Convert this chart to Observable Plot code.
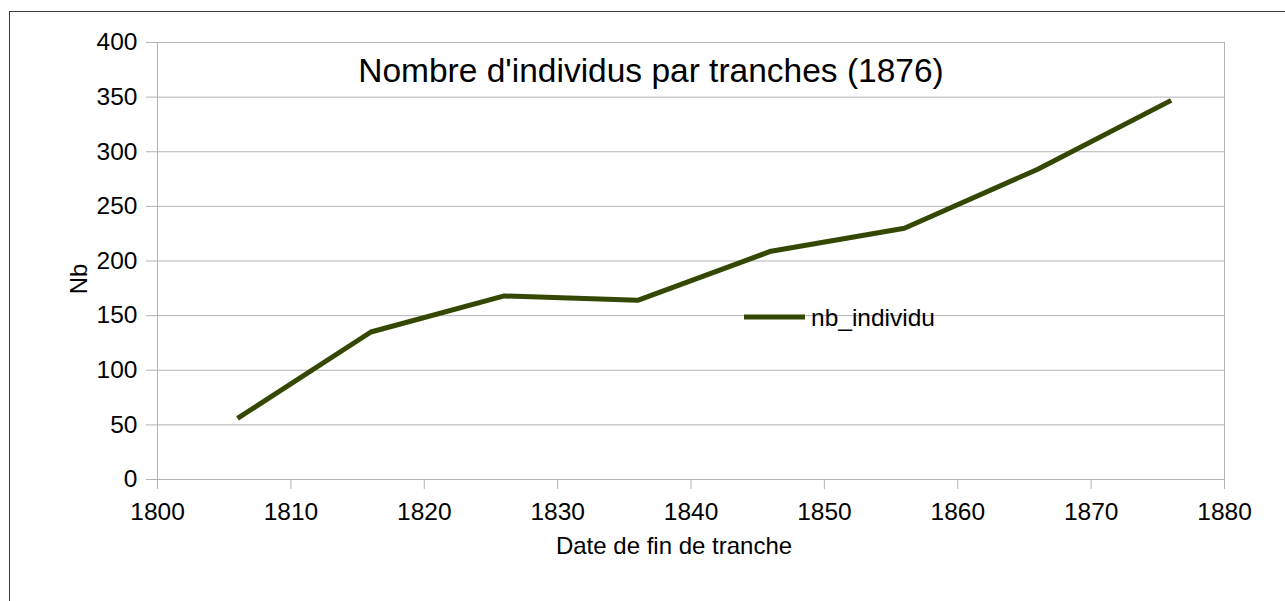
<!DOCTYPE html>
<html>
<head>
<meta charset="utf-8">
<script src="https://cdn.jsdelivr.net/npm/d3@7"></script>
<script src="https://cdn.jsdelivr.net/npm/@observablehq/plot@0.6"></script>
<style>
  html, body { margin: 0; padding: 0; background: #fff; overflow: hidden; }
  #wrap { position: relative; width: 1285px; height: 601px; overflow: hidden; }
  #border { position: absolute; left: 9px; top: 11px; width: 1400px; height: 800px; border-left: 1px solid #3a3a3a; border-top: 1px solid #3a3a3a; pointer-events: none; }
  #chart { position: absolute; left: 0; top: 0; }
</style>
</head>
<body>
<div id="wrap"><div id="chart"></div><div id="border"></div></div>
<script>
const years = [1806, 1816, 1826, 1836, 1846, 1856, 1866, 1876];
const nbIndividu = [56, 135, 168, 164, 209, 230, 284, 347];
const yTicks = [0, 50, 100, 150, 200, 250, 300, 350, 400];
const xTicks = [1800, 1810, 1820, 1830, 1840, 1850, 1860, 1870, 1880];
const titleText = "Nombre d'individus par tranches (1876)";
const seriesName = "nb_individu";
const xLabel = "Date de fin de tranche";
const yLabel = "Nb";

const data = years.map((y, i) => ({year: y, nb: nbIndividu[i]}));
const lineColor = "#354803";
const gridColor = "#b3b3b3";
const font = "'Liberation Sans', Arial, sans-serif";

const plot = Plot.plot({
  width: 1285,
  height: 601,
  marginLeft: 157,
  marginRight: 61,
  marginTop: 42,
  marginBottom: 122,
  style: {fontFamily: font, background: "transparent", color: "black"},
  x: {domain: [1800, 1880], ticks: xTicks},
  y: {domain: [0, 400], ticks: yTicks},
  marks: [
    Plot.gridY(yTicks, {stroke: gridColor, strokeOpacity: 1}),
    Plot.frame({stroke: gridColor}),
    Plot.axisY(yTicks, {tickSize: 11, tickPadding: 9, fontSize: 24.5, stroke: gridColor, strokeOpacity: 1, fill: "black", label: null}),
    Plot.axisX(xTicks, {tickSize: 10, tickPadding: 13, fontSize: 24.5, stroke: gridColor, strokeOpacity: 1, fill: "black", label: null, tickFormat: d => String(d)}),
    Plot.line(data, {x: "year", y: "nb", stroke: lineColor, strokeWidth: 5, strokeLinejoin: "round", strokeLinecap: "butt"})
  ]
});
document.getElementById("chart").appendChild(plot);

const svg = d3.select(plot);
svg.append("text")
  .attr("x", 651).attr("y", 82)
  .attr("text-anchor", "middle")
  .attr("font-size", 33.5).attr("font-family", font).attr("fill", "black")
  .text(titleText);
svg.append("text")
  .attr("x", 674).attr("y", 554)
  .attr("text-anchor", "middle")
  .attr("font-size", 24).attr("font-family", font).attr("fill", "black")
  .text(xLabel);
svg.append("text")
  .attr("transform", "translate(87,279) rotate(-90)")
  .attr("text-anchor", "middle")
  .attr("font-size", 24).attr("font-family", font).attr("fill", "black")
  .text(yLabel);
svg.append("line")
  .attr("x1", 744).attr("x2", 805).attr("y1", 317).attr("y2", 317)
  .attr("stroke", lineColor).attr("stroke-width", 5);
svg.append("text")
  .attr("x", 811).attr("y", 326)
  .attr("text-anchor", "start")
  .attr("font-size", 24.5).attr("font-family", font).attr("fill", "black")
  .text(seriesName);
</script>
</body>
</html>
